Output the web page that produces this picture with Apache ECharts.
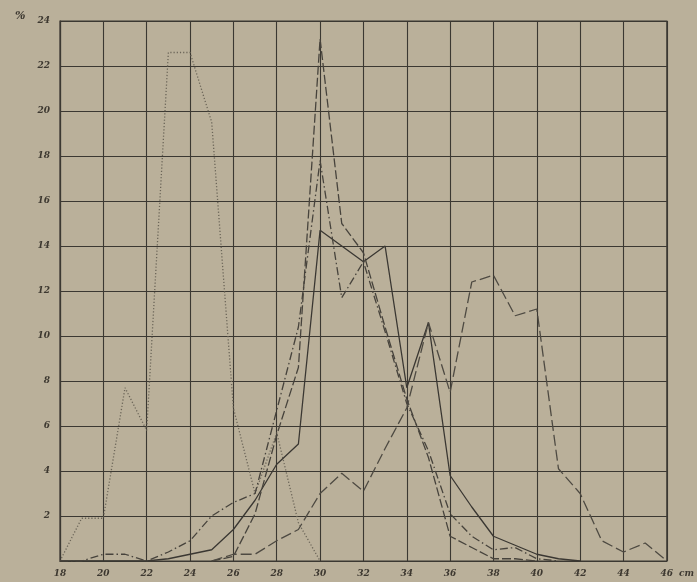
<!DOCTYPE html>
<html>
<head>
<meta charset="utf-8">
<script src="https://cdn.jsdelivr.net/npm/echarts@6/dist/echarts.min.js"></script>
<style>
html,body{margin:0;padding:0;background:#bab09a;}
#chart{width:697px;height:582px;}
</style>
</head>
<body>
<div id="chart"></div>
<script>
// x positions (cm) of the plotted points
const xs = [18,19,20,21,22,23,24,25,26,27,28,29,30,31,32,33,34,35,36,37,38,39,40,41,42,43,44,45,46];
// dotted curve
const dotted = [0,1.9,1.9,7.7,5.8,22.6,22.6,19.5,6.8,3.0,5.7,1.7,0,null,null,null,null,null,null,null,null,null,null,null,null,null,null,null,null];
// solid curve
const solid = [0,0,0,0,0,0.1,0.3,0.5,1.4,2.7,4.3,5.2,14.7,14.0,13.3,14.0,7.7,10.6,3.8,2.4,1.1,0.7,0.3,0.1,0,null,null,null,null];
// long dash curve (tallest peak)
const longDash = [null,null,null,null,null,null,null,0,0.2,2.1,5.6,8.6,23.2,15.0,13.7,10.4,7.2,4.6,1.1,0.6,0.1,0.1,0,null,null,null,null,null,null];
// dash-dot curve
const dashDot = [0,0,0.3,0.3,0,0.4,0.9,2.0,2.6,3.0,6.7,10.4,17.8,11.7,13.3,10.2,7.0,4.9,2.1,1.1,0.5,0.6,0.1,0,null,null,null,null,null];
// bimodal dashed curve
const bimodal = [null,null,null,null,null,null,null,0,0.3,0.3,0.9,1.4,3.0,3.9,3.1,5.0,6.8,10.6,7.5,12.4,12.7,10.9,11.2,4.1,3.0,0.9,0.4,0.8,0];

const xTicks = [18,20,22,24,26,28,30,32,34,36,38,40,42,44,46];
const yTicks = [2,4,6,8,10,12,14,16,18,20,22,24];

function pairs(vals){ return xs.map((x,i)=>[x, vals[i]]); }

const ink = '#3b3832';
const labelFont = {color:'#3d3830', fontFamily:'DejaVu Serif', fontStyle:'italic', fontWeight:'bold', fontSize:9};

const chart = echarts.init(document.getElementById('chart'));
chart.setOption({
  backgroundColor:'#bab09a',
  animation:false,
  grid:{left:60, right:26, top:21, bottom:21, show:true, borderColor:ink, borderWidth:1.2, backgroundColor:'transparent'},
  xAxis:{type:'value', min:18, max:46, interval:2,
    axisLine:{show:true, lineStyle:{color:ink, width:1.2}},
    axisTick:{show:false},
    splitLine:{show:true, lineStyle:{color:ink, width:1.1}},
    axisLabel:Object.assign({margin:8, formatter:v=> xTicks.includes(v)? String(v):''}, labelFont),
    name:'cm', nameLocation:'end', nameGap:8,
    nameTextStyle:Object.assign({}, labelFont, {verticalAlign:'top', padding:[8,0,0,0]})
  },
  yAxis:{type:'value', min:0, max:24, interval:2,
    axisLine:{show:true, lineStyle:{color:ink, width:1.2}},
    axisTick:{show:false},
    splitLine:{show:true, lineStyle:{color:ink, width:1.1}},
    axisLabel:Object.assign({margin:10, formatter:v=> yTicks.includes(v)? String(v):''}, labelFont)
  },
  graphic:[{type:'text', left:15, top:11, style:{text:'%', fill:'#3d3830', font:'italic bold 11px "DejaVu Serif"'}}],
  series:[
    {type:'line', data:pairs(dotted), symbol:'none', connectNulls:false,
      lineStyle:{color:'#6b6558', width:1.3, type:[1.2,2]}},
    {type:'line', data:pairs(solid), symbol:'none',
      lineStyle:{color:'#3a3732', width:1.3, type:'solid'}},
    {type:'line', data:pairs(longDash), symbol:'none',
      lineStyle:{color:'#47433c', width:1.3, type:[9,3]}},
    {type:'line', data:pairs(dashDot), symbol:'none',
      lineStyle:{color:'#47433c', width:1.3, type:[8,3,1.5,3]}},
    {type:'line', data:pairs(bimodal), symbol:'none',
      lineStyle:{color:'#4e4a42', width:1.3, type:[11,4]}}
  ]
});
</script>
</body>
</html>
